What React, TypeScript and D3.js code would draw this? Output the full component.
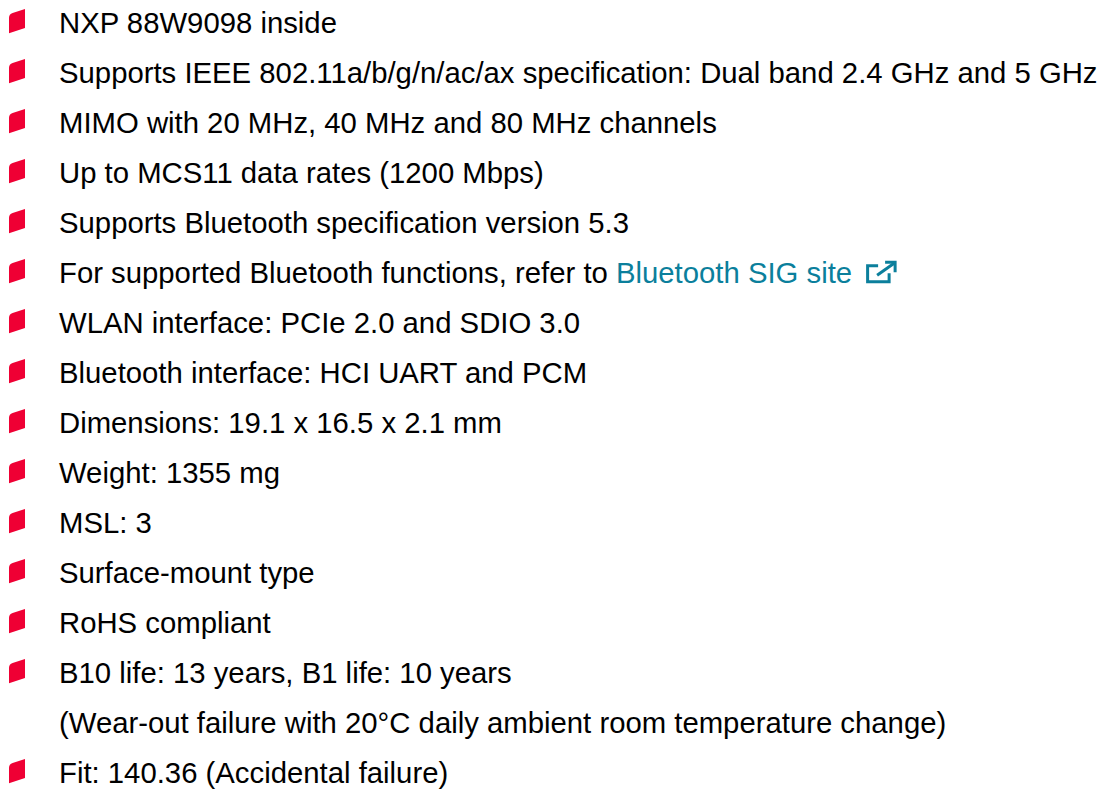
import React, { useEffect, useRef } from 'react';
import * as d3 from 'd3';

// one row per printed line; bullet=false is a wrapped continuation line
const lines = [
  'NXP 88W9098 inside',
  'Supports IEEE 802.11a/b/g/n/ac/ax specification: Dual band 2.4 GHz and 5 GHz',
  'MIMO with 20 MHz, 40 MHz and 80 MHz channels',
  'Up to MCS11 data rates (1200 Mbps)',
  'Supports Bluetooth specification version 5.3',
  'For supported Bluetooth functions, refer to ',
  'WLAN interface: PCIe 2.0 and SDIO 3.0',
  'Bluetooth interface: HCI UART and PCM',
  'Dimensions: 19.1 x 16.5 x 2.1 mm',
  'Weight: 1355 mg',
  'MSL: 3',
  'Surface-mount type',
  'RoHS compliant',
  'B10 life: 13 years, B1 life: 10 years',
  '(Wear-out failure with 20°C daily ambient room temperature change)',
  'Fit: 140.36 (Accidental failure)',
];
const bullets = [true, true, true, true, true, true, true, true, true, true, true, true, true, true, false, true];
const linkRow = 5;
const linkText = 'Bluetooth SIG site';

const RED = '#ef0034';
const LINK = '#0b7f9c';

export default function App() {
  const svgRef = useRef<SVGSVGElement>(null);

  useEffect(() => {
    if (!svgRef.current) return;
    const svg = d3.select(svgRef.current);
    svg.selectAll('*').remove();

    const textX = 59;

    // baseline of each row
    const y = d3.scaleLinear().domain([0, lines.length - 1]).range([33.3, 783.3]);

    const rows = svg.selectAll('g.row')
      .data(lines.map((t, i) => ({ t, i, b: bullets[i] })))
      .enter()
      .append('g')
      .attr('class', 'row')
      .attr('transform', d => `translate(0,${y(d.i)})`);

    // red slanted bullet
    rows.filter(d => d.b)
      .append('path')
      .attr('d', 'M9,-15.5 Q9,-19.3 12.6,-20.4 L25,-24.3 L25,-5.3 L9,0 Z')
      .attr('fill', RED);

    const texts = rows.append('text')
      .attr('x', textX)
      .attr('y', 0)
      .style('font-family', '"Liberation Sans", Arial, sans-serif')
      .style('font-size', '29.3px')
      .style('fill', '#000');

    texts.append('tspan').text(d => d.t);

    const linkRowText = texts.filter(d => d.i === linkRow);
    linkRowText.append('tspan')
      .style('fill', LINK)
      .text(linkText);

    // external link icon after the link text
    const node = linkRowText.node() as SVGTextElement | null;
    if (node) {
      const end = textX + node.getComputedTextLength();
      const icon = svg.append('g')
        .attr('transform', `translate(${end + 14},${y(linkRow)})`)
        .attr('fill', 'none')
        .attr('stroke', LINK)
        .attr('stroke-width', 3);
      icon.append('path').attr('d', 'M12,-17.5 L1.5,-17.5 L1.5,-1.5 L23,-1.5 L23,-10');
      icon.append('path').attr('d', 'M11,-8 L28,-20');
      icon.append('path').attr('d', 'M19,-21 L29,-21 L29,-11');
    }
  }, []);

  return (
    <svg
      ref={svgRef}
      width={1104}
      height={789}
      style={{ position: 'absolute', left: 0, top: 0, background: '#fff' }}
    />
  );
}
